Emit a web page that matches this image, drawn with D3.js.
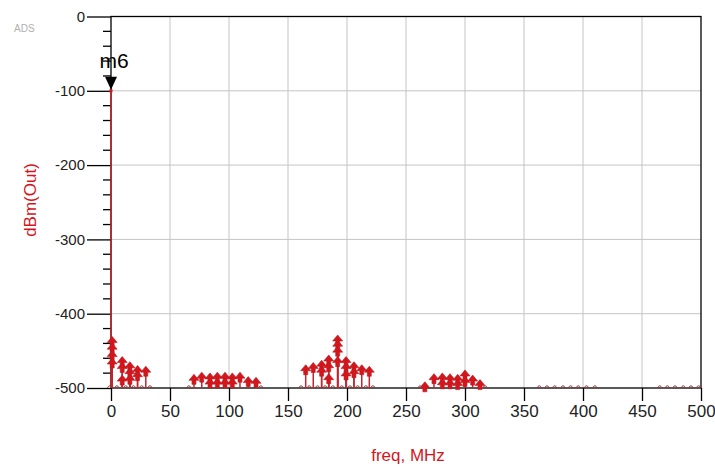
<!DOCTYPE html>
<html>
<head>
<meta charset="utf-8">
<script src="https://cdn.jsdelivr.net/npm/d3@7"></script>
<style>
  body { margin: 0; background: #fff; }
  text { font-family: "Liberation Sans", Arial, sans-serif; }
</style>
</head>
<body>
<div id="chart"></div>
<script>
// spectrum tones (freq MHz, dBm) - repeated freqs are stacked markers
const toneFreq = [0,
  1, 1, 1, 1, 9.5, 9.5, 9.5, 16, 16, 16, 22.5, 22.5, 29.5,
  70.3, 76.9, 83.9, 90.1, 96.6, 102.8, 109.3, 116.3, 122.9,
  83.9, 90.1, 96.6, 102.8,
  165, 171.4, 178.5, 178.5, 184.5, 184.5, 184.5, 192.1, 192.1, 192.1, 192.1,
  199.2, 199.2, 199.2, 205.9, 205.9, 212.5, 218.9,
  266, 273.7, 280.8, 280.8, 287.3, 287.3, 293.8, 293.8, 300, 300, 306.5, 312.7];
const toneDbm = [-100,
  -432, -441, -451, -461, -459, -467, -484, -466, -474, -483, -471, -478, -472,
  -483, -480, -481, -480, -480, -481, -480, -486, -487,
  -488, -488, -488, -488,
  -470, -467, -464, -472, -457, -466, -482, -430, -437, -445, -459,
  -459, -467, -477, -466, -474, -470, -472,
  -493, -482, -481, -489, -482, -489, -483, -490, -477, -486, -484, -490];
// tiny products sitting on the floor
const floorFreq = [-1, 5, 12.5, 19, 26, 33,
  66, 127,
  161, 168, 175, 181.5, 188, 195.5, 202.5, 209, 216, 222,
  262, 317,
  363, 369.5, 376, 383, 389.5, 396, 403, 410,
  465, 471.5, 478, 485, 491.5, 498];
const floorDbm = floorFreq.map(() => -498);

const xTicks = [0, 50, 100, 150, 200, 250, 300, 350, 400, 450, 500];
const yTicks = [0, -100, -200, -300, -400, -500];
const markerName = "m6";

const W = 715, H = 467;
const red = "#d4161c";

const svg = d3.select("#chart").append("svg")
  .attr("width", W).attr("height", H);

const x = d3.scaleLinear().domain([0, 500]).range([111, 701]);
const y = d3.scaleLinear().domain([-500, 0]).range([388, 16.5]);

// grid
svg.append("g").selectAll("line").data(xTicks.slice(1, -1)).join("line")
  .attr("x1", d => x(d)).attr("x2", d => x(d))
  .attr("y1", y(0)).attr("y2", y(-500))
  .attr("stroke", "#c4c4c4").attr("stroke-width", 1);
svg.append("g").selectAll("line").data(yTicks.slice(1, -1)).join("line")
  .attr("x1", x(0)).attr("x2", x(500))
  .attr("y1", d => y(d)).attr("y2", d => y(d))
  .attr("stroke", "#c4c4c4").attr("stroke-width", 1);

// frame
svg.append("rect")
  .attr("x", x(0)).attr("y", y(0))
  .attr("width", x(500) - x(0)).attr("height", y(-500) - y(0))
  .attr("fill", "none").attr("stroke", "#000").attr("stroke-width", 1.3);

// y axis: major + minor ticks
const yAxis = d3.axisLeft(y).tickValues(yTicks).tickSize(24).tickPadding(2)
  .tickFormat(d => String(d));
const yg = svg.append("g").attr("transform", `translate(${x(0)},0)`).call(yAxis);
yg.select(".domain").remove();
yg.selectAll("line").attr("stroke", "#000").attr("stroke-width", 1.3);
yg.selectAll("text").attr("font-size", 15).attr("fill", "#222");
const minor = d3.range(-480, 0, 20).filter(v => v % 100 !== 0);
svg.append("g").selectAll("line").data(minor).join("line")
  .attr("x1", x(0) - 8).attr("x2", x(0))
  .attr("y1", d => y(d)).attr("y2", d => y(d))
  .attr("stroke", "#000").attr("stroke-width", 1.3);

// x axis
const xAxis = d3.axisBottom(x).tickValues(xTicks).tickSize(13).tickPadding(4)
  .tickFormat(d => String(d));
const xg = svg.append("g").attr("transform", `translate(0,${y(-500)})`).call(xAxis);
xg.select(".domain").remove();
xg.selectAll("line").attr("stroke", "#000").attr("stroke-width", 1.3);
xg.selectAll("text").attr("font-size", 17).attr("fill", "#222");

// labels
svg.append("text")
  .attr("x", x(250) + 2).attr("y", 461)
  .attr("text-anchor", "middle").attr("font-size", 17).attr("fill", red)
  .text("freq, MHz");
svg.append("text")
  .attr("transform", "translate(36,200) rotate(-90)")
  .attr("text-anchor", "middle").attr("font-size", 17).attr("fill", red)
  .text("dBm(Out)");
svg.append("text")
  .attr("x", 14).attr("y", 32).attr("font-size", 10).attr("fill", "#b0b0b0")
  .text("ADS");

// stems
const tones = toneFreq.map((f, i) => ({f, v: toneDbm[i]}));
const floor = floorFreq.map((f, i) => ({f, v: floorDbm[i]}));

svg.append("g").selectAll("line").data(tones).join("line")
  .attr("x1", d => x(d.f)).attr("x2", d => x(d.f))
  .attr("y1", y(-500)).attr("y2", d => y(d.v))
  .attr("stroke", "#c0262c").attr("stroke-width", 1.5);

// tone markers: little arrow/tree shape
const treePath = "M0,-6 L5,0 L2,0 L2,4 L-2,4 L-2,0 L-5,0 Z";
svg.append("g").selectAll("path").data(tones.slice(1)).join("path")
  .attr("d", treePath)
  .attr("transform", d => `translate(${x(d.f)},${y(d.v) + 5})`)
  .attr("fill", red).attr("stroke", "#b81c22").attr("stroke-width", 0.6);

// floor markers
svg.append("g").selectAll("path").data(floor).join("path")
  .attr("d", "M-2.5,1.5 Q0,-3 2.5,1.5")
  .attr("transform", d => `translate(${x(d.f)},${y(d.v)})`)
  .attr("fill", "none").attr("stroke", "#9a3438").attr("stroke-width", 1);

// marker m6 on the carrier
const mx = x(toneFreq[0]), my = y(toneDbm[0]);
svg.append("path")
  .attr("d", `M${mx - 6},${my - 14} L${mx + 6},${my - 14} L${mx},${my - 1} Z`)
  .attr("fill", "#000");
svg.append("text")
  .attr("x", mx + 3).attr("y", my - 23)
  .attr("text-anchor", "middle").attr("font-size", 21).attr("fill", "#000")
  .text(markerName);
svg.append("rect")
  .attr("x", mx - 1.5).attr("y", my - 1.5).attr("width", 3).attr("height", 3)
  .attr("fill", red);
</script>
</body>
</html>
